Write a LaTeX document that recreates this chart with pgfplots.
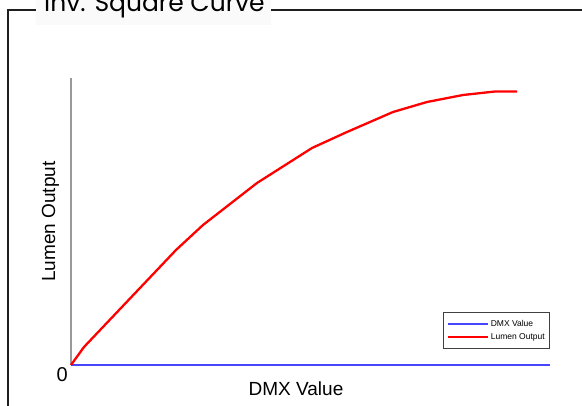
\documentclass[border=0pt]{standalone}
\usepackage{pgfplots}
\pgfplotsset{compat=1.18}
\usepackage{fontspec}
\setmainfont{Liberation Sans}
\newfontfamily\titlefont{Poppins}
\definecolor{lumred}{RGB}{255,0,0}
\definecolor{dmxblue}{RGB}{70,70,255}
\begin{document}
\begin{tikzpicture}[x=1pt,y=1pt]
\useasboundingbox (0,0) rectangle (582,-406);
\fill[black!2] (36,2) rectangle (271,-25);
\draw[line width=2pt, black!88] (8,-410) -- (8,-10) -- (36,-10);
\draw[line width=2pt, black!88] (271,-10) -- (590,-10);
\node[anchor=base west, inner sep=0pt, font=\titlefont\fontsize{25}{25}\selectfont] at (44,-12) {Inv. Square Curve};
\begin{axis}[
  at={(71,-365)}, anchor=south west,
  scale only axis, width=479pt, height=287pt,
  xmin=0, xmax=479, ymin=0, ymax=287,
  axis x line=none,
  axis y line*=left,
  y axis line style={draw=black!40, line width=1.1pt, -},
  xtick=\empty, ytick=\empty,
  clip=false,
  legend style={font=\fontsize{8.5}{9}\selectfont, draw=black!75, line width=0.6pt,
    at={(1,0)}, anchor=south east, yshift=16.5pt, inner xsep=3pt, inner ysep=5.5pt,
    row sep=1.5pt, legend cell align=left},
  legend image code/.code={\path (-4pt,0pt) -- (36pt,0pt);\draw[#1, line width=1.2pt] (0pt,0pt) -- (24pt,0pt);},
]
\addplot[dmxblue, line width=1.4pt] coordinates {(0,0) (479,0)};
\addlegendentry{DMX Value}
\addplot[lumred, line width=2.3pt] coordinates {
(0,0) (13,18) (105,115) (132,140) (186,182) (241,217) (276,233) (322,253) (356,263) (392,270) (424,273.5) (446,273.5)};
\addlegendentry{Lumen Output}
\node[anchor=north east, inner sep=0pt, font=\fontsize{20}{20}\selectfont] at (axis cs:-3,-2) {0};
\node[anchor=center, font=\fontsize{19}{19}\selectfont] at (axis cs:225,-24) {DMX Value};
\node[anchor=center, rotate=90, font=\fontsize{19}{19}\selectfont] at (axis cs:-20.5,143.5) {Lumen Output};
\end{axis}
\end{tikzpicture}
\end{document}
